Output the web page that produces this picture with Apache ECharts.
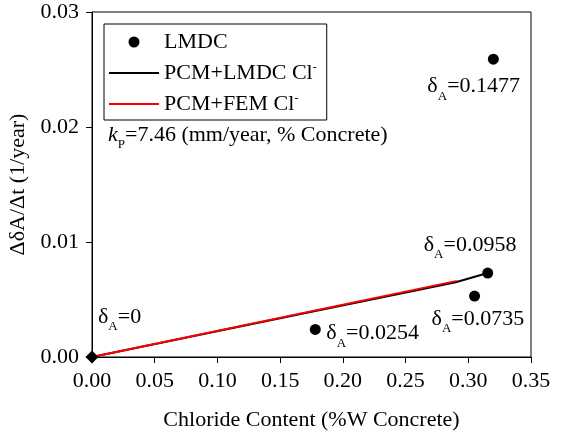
<!DOCTYPE html>
<html>
<head>
<meta charset="utf-8">
<script src="https://cdn.jsdelivr.net/npm/echarts@6/dist/echarts.min.js"></script>
<style>
html,body{margin:0;padding:0;background:#fff;}
#chart{width:564px;height:434px;}
</style>
</head>
<body>
<div id="chart"></div>
<script>
// ---- data ----
var xTicks = [0, 0.35, 0.05];          // min, max, interval
var yTicks = [0, 0.03, 0.01];          // min, max, interval
var lmdcX = [0, 0.178, 0.305, 0.3155, 0.320];
var lmdcY = [0, 0.0024, 0.0053, 0.0073, 0.0259];
var lmdcLabels = ['0', '0.0254', '0.0735', '0.0958', '0.1477'];
var pcmLmdcX = [0, 0.178, 0.290, 0.3155];
var pcmLmdcY = [0, 0.0040, 0.0065, 0.0073];
var pcmFemX = [0, 0.291];
var pcmFemY = [0, 0.00662];
var seriesNames = ['LMDC', 'PCM+LMDC Cl', 'PCM+FEM Cl'];

var FONT = 'Liberation Serif';
var FS = 22;

function pairs(xs, ys) { return xs.map(function (x, i) { return [x, ys[i]]; }); }

// label offsets (px) for each LMDC point annotation
var labelOffsets = [[6, -40], [11, 4], [-43, 23], [-64, -28], [-66, 27]];

var richDelta = {
  m: { fontFamily: FONT, fontSize: FS, color: '#000' },
  s: { fontFamily: FONT, fontSize: 13, color: '#000', padding: [20, 0, 0, 0] }
};

var lmdcData = lmdcX.map(function (x, i) {
  var item = {
    value: [x, lmdcY[i]],
    label: {
      show: true,
      position: 'inside',
      align: 'left',
      verticalAlign: 'middle',
      offset: labelOffsets[i],
      formatter: '{m|δ}{s|A}{m|=' + lmdcLabels[i] + '}',
      rich: richDelta
    }
  };
  if (i === 0) { item.symbol = 'diamond'; item.symbolSize = 13; }
  return item;
});

var chart = echarts.init(document.getElementById('chart'), null, { renderer: 'canvas' });

var axisCommon = {
  axisLine: { show: true, lineStyle: { color: '#000', width: 1 } },
  axisTick: { show: true, inside: false, length: 6, lineStyle: { color: '#000' } },
  splitLine: { show: false },
  axisLabel: { color: '#000', fontFamily: FONT, fontSize: FS, margin: 13,
               formatter: function (v) { return v.toFixed(2); } },
  nameTextStyle: { color: '#000', fontFamily: FONT, fontSize: FS },
  nameLocation: 'middle'
};

var option = {
  backgroundColor: '#fff',
  animation: false,
  grid: { left: 92, right: 33, top: 12, bottom: 77, show: true, borderColor: '#000', borderWidth: 1,
          containLabel: false, outerBoundsMode: 'none' },
  xAxis: Object.assign({}, axisCommon, {
    type: 'value', min: xTicks[0], max: xTicks[1], interval: xTicks[2],
    name: 'Chloride Content (%W Concrete)', nameGap: 52
  }),
  yAxis: Object.assign({}, axisCommon, {
    type: 'value', min: yTicks[0], max: yTicks[1], interval: yTicks[2],
    name: 'ΔδA/Δt (1/year)', nameGap: 55
  }),
  legend: {
    orient: 'vertical',
    left: 104, top: 24,
    padding: [7, 10, 5, 4],
    itemGap: 9,
    itemWidth: 50, itemHeight: 11,
    borderColor: '#000', borderWidth: 1,
    backgroundColor: '#fff',
    lineStyle: { width: 2 },
    data: seriesNames,
    formatter: function (name) {
      if (name === 'LMDC') return '{t|' + name + '}';
      return '{t|' + name + '}{p|-}';
    },
    textStyle: {
      color: '#000', fontFamily: FONT, fontSize: FS,
      rich: {
        t: { fontFamily: FONT, fontSize: FS, color: '#000' },
        p: { fontFamily: FONT, fontSize: 12, color: '#000', padding: [0, 0, 10, 0] }
      }
    }
  },
  graphic: [{
    type: 'text',
    left: 108, top: 124,
    style: {
      rich: {
        k: { fontFamily: FONT, fontSize: FS, fontStyle: 'italic', fill: '#000' },
        s: { fontFamily: FONT, fontSize: 13, fill: '#000', padding: [20, 0, 0, 0] },
        m: { fontFamily: FONT, fontSize: FS, fill: '#000' }
      },
      text: '{k|k}{s|P}{m|=7.46 (mm/year, % Concrete)}'
    },
    z: 100
  }],
  series: [
    {
      name: seriesNames[0], type: 'scatter', data: lmdcData,
      symbol: 'circle', symbolSize: 11, clip: false,
      itemStyle: { color: '#000', opacity: 1 }, z: 5
    },
    {
      name: seriesNames[1], type: 'line', data: pairs(pcmLmdcX, pcmLmdcY),
      symbol: 'none', showSymbol: false, clip: false,
      lineStyle: { color: '#000', width: 2, opacity: 1 }, itemStyle: { color: '#000', opacity: 0 }, z: 3
    },
    {
      name: seriesNames[2], type: 'line', data: pairs(pcmFemX, pcmFemY),
      symbol: 'none', showSymbol: false, clip: false,
      lineStyle: { color: '#ff0000', width: 2, opacity: 1 }, itemStyle: { color: '#ff0000', opacity: 0 }, z: 4
    }
  ]
};
chart.setOption(option);
</script>
</body>
</html>
